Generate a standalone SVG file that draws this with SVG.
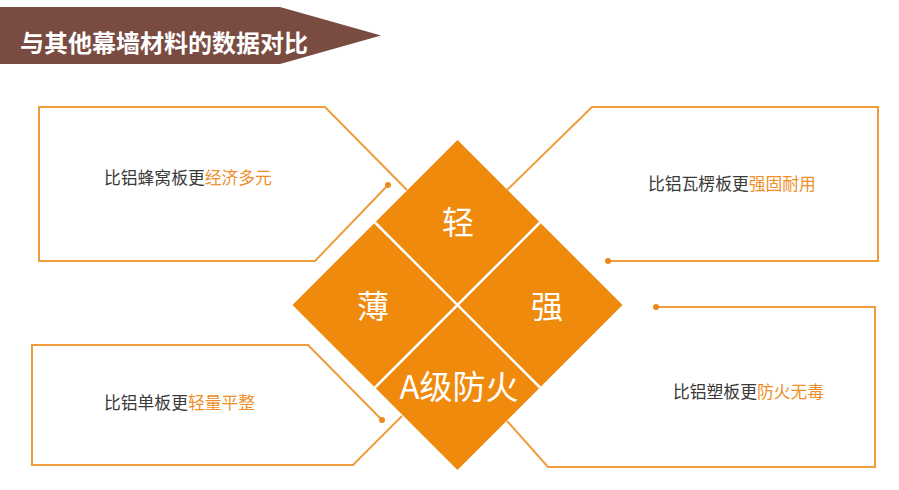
<svg xmlns="http://www.w3.org/2000/svg" width="899" height="490" viewBox="0 0 899 490">
<style>
.box{fill:none;stroke:#EF9C3A;stroke-width:2;stroke-linejoin:miter}
.dot{fill:#EA8A20}
.txt{font-family:"Noto Sans CJK SC","Noto Sans",sans-serif;font-size:16.8px;fill:#3a3a3a}
.hl{fill:#EE8F2A}
.big{font-family:"Noto Sans CJK SC","Noto Sans",sans-serif;fill:#ffffff;text-anchor:middle}
.div{stroke:#ffffff;stroke-width:2.5}
</style>
<rect width="899" height="490" fill="#ffffff"/>
<g id="title">
<polygon points="0,7 280,7 381,35.5 280,64 0,64" fill="#7A4B40"/>
<text x="20" y="52" font-family="Noto Sans CJK SC, sans-serif" font-size="24" font-weight="bold" fill="#ffffff">与其他幕墙材料的数据对比</text>
</g>
<g id="connectors">
<polyline class="box" points="407,190 325,107 39,107 39,261 315,261 388,185"/>
<polyline class="box" points="507,190 592,107 878,107 878,261 608,261"/>
<polyline class="box" points="382,420 308,345 32,345 32,465 353,465 402,416"/>
<polyline class="box" points="656,307 875,307 875,467 548,467 507,421"/>
<circle class="dot" cx="388" cy="185" r="3"/>
<circle class="dot" cx="608" cy="261" r="3"/>
<circle class="dot" cx="382" cy="420" r="3"/>
<circle class="dot" cx="656" cy="307" r="3"/>
</g>
<g id="diamond">
<polygon points="457.5,140 622.5,305 457.5,470 292.5,305" fill="#EF8A0C"/>
<line class="div" x1="375" y1="222.5" x2="540" y2="387.5"/>
<line class="div" x1="540" y1="222.5" x2="375" y2="387.5"/>
</g>
<g id="node-light"><text class="big" x="458" y="234" font-size="32">轻</text></g>
<g id="node-thin"><text class="big" x="373" y="318" font-size="32">薄</text></g>
<g id="node-strong"><text class="big" x="547" y="318" font-size="32">强</text></g>
<g id="node-fire"><text class="big" x="459" y="399" font-size="33">A级防火</text></g>
<g id="box-honeycomb"><text class="txt" x="104" y="184">比铝蜂窝板更<tspan class="hl">经济多元</tspan></text></g>
<g id="box-corrugated"><text class="txt" x="648" y="190">比铝瓦楞板更<tspan class="hl">强固耐用</tspan></text></g>
<g id="box-single"><text class="txt" x="104" y="409">比铝单板更<tspan class="hl">轻量平整</tspan></text></g>
<g id="box-plastic"><text class="txt" x="673" y="398">比铝塑板更<tspan class="hl">防火无毒</tspan></text></g>
</svg>
